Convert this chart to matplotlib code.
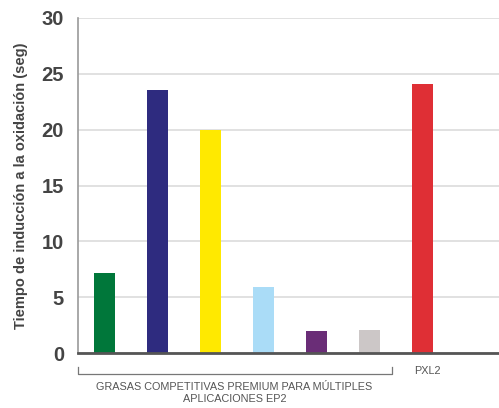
import matplotlib
matplotlib.use('Agg')
import matplotlib.pyplot as plt

plt.rcParams['font.family'] = ['Liberation Sans', 'DejaVu Sans']

values = [7.2, 23.5, 20.0, 5.9, 2.0, 2.1, 24.1]
colors = ['#00773a', '#2e2b7f', '#ffe900', '#aadcf7', '#6a2d77', '#ccc7c7', '#df2f35']
yticks = [0, 5, 10, 15, 20, 25, 30]
ylabel = 'Tiempo de inducción a la oxidación (seg)'
group_label = 'GRASAS COMPETITIVAS PREMIUM PARA MÚLTIPLES\nAPLICACIONES EP2'
pxl_label = 'PXL2'

fig = plt.figure(figsize=(4.99, 4.08), dpi=100)
ax = fig.add_axes([78 / 499, 1 - 353.3 / 408, 1 - 78 / 499, 335.5 / 408])

x = list(range(len(values)))
ax.bar(x, values, width=21 / 53, color=colors, zorder=3)
ax.set_xlim(-0.5, 7.44)
ax.set_ylim(0, 30)
ax.set_yticks(yticks)
ax.set_xticks([])
ax.yaxis.grid(True, color='#dcdcdc', linewidth=1.2, zorder=0)
ax.tick_params(axis='y', length=0, pad=10, labelsize=14.5, labelcolor='#444444')
for lab in ax.get_yticklabels():
    lab.set_fontweight('bold')
for s in ['top', 'right', 'bottom']:
    ax.spines[s].set_visible(False)
ax.spines['left'].set_color('#9a9a9a')
ax.spines['left'].set_linewidth(1.2)
ax.axhline(0, color='#555555', linewidth=2, zorder=4, clip_on=False)

ax.set_ylabel(ylabel, fontsize=10.5, fontweight='bold', color='#444444', labelpad=10)

# bracket under the competitor group
trans = ax.get_xaxis_transform()
yb = -21 / 335.5
yt = -14 / 335.5
ax.plot([-0.5, -0.5, 5.42, 5.42], [yt, yb, yb, yt], color='#777777', linewidth=0.9,
        transform=trans, clip_on=False)
ax.text(2.45, -29 / 335.5, group_label, transform=trans, ha='center', va='top',
        fontsize=7.8, color='#555555', linespacing=1.25)
ax.text(5.83, -18 / 335.5, pxl_label, transform=trans, ha='left', va='center',
        fontsize=7.8, color='#555555')

fig.savefig('out.png', dpi=100)
